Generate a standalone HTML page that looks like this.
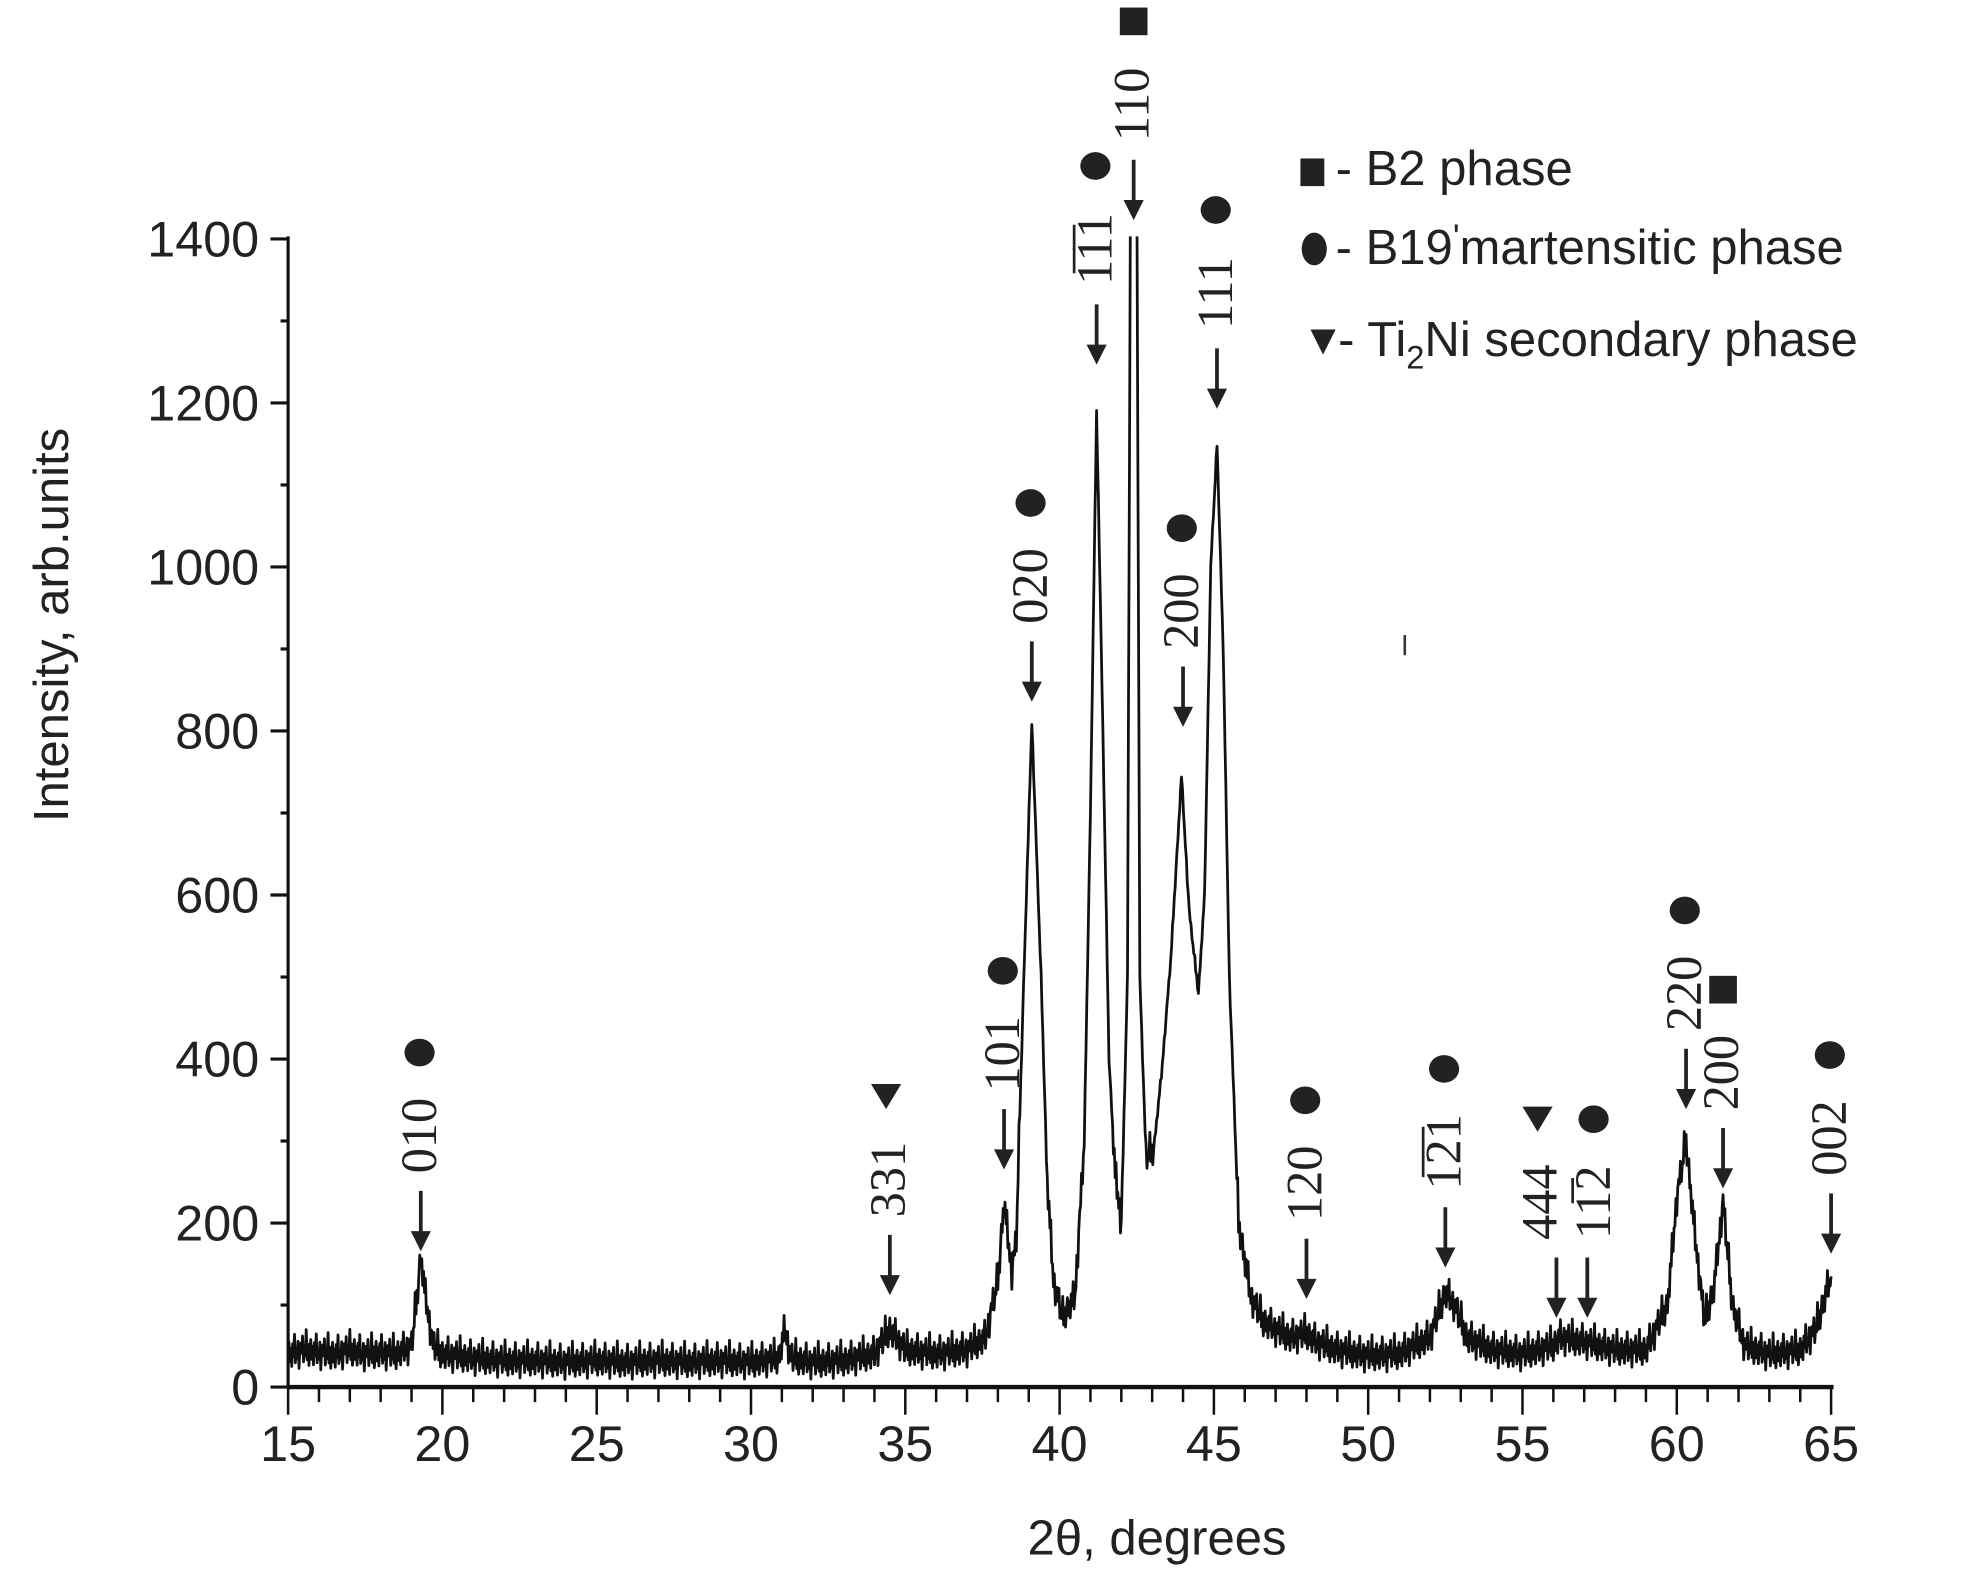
<!DOCTYPE html>
<html><head><meta charset="utf-8"><style>
html,body{margin:0;padding:0;background:#fff;}
svg{display:block;}
</style></head><body>
<svg id="chart" width="1962" height="1587" viewBox="0 0 1560 1262" xmlns="http://www.w3.org/2000/svg">
<defs><clipPath id="plotclip"><rect x="229" y="188" width="1230" height="916"/></clipPath></defs>
<g id="axes"></g>
<g id="series" clip-path="url(#plotclip)"></g>
<g id="annots"></g>
<text x="920" y="1236" text-anchor="middle" font-family="Liberation Sans, sans-serif" font-size="39" fill="#222">2θ, degrees</text>
<text transform="translate(54,497) rotate(-90)" text-anchor="middle" font-family="Liberation Sans, sans-serif" font-size="39" fill="#222">Intensity, arb.units</text>
<rect x="1116" y="505" width="2" height="16" fill="#333"/>
<g font-family="Liberation Sans, sans-serif" font-size="39" fill="#222">
  <g>
    <rect x="1034" y="126" width="19" height="22" fill="#222"/>
    <text x="1062" y="147">- B2 phase</text>
  </g>
  <g>
    <ellipse cx="1045" cy="198" rx="10" ry="13" fill="#222"/>
    <text x="1062" y="210">- B19<tspan font-size="28" dy="-12">'</tspan><tspan dy="12">martensitic phase</tspan></text>
  </g>
  <g>
    <polygon points="1042,262 1062,262 1052,282" fill="#222"/>
    <text x="1064" y="283">- Ti<tspan font-size="26" dy="10">2</tspan><tspan dy="-10">Ni secondary phase</tspan></text>
  </g>
</g>
</svg>
<script>
const twoTheta = [15,15.5,16,16.5,17,17.5,18,18.5,19,19.2,19.3,19.45,19.7,20,21,22,23,24,25,26,27,28,29,30,30.9,31.1,31.3,32,33,34,34.5,35,36,37,37.6,38,38.2,38.45,38.6,38.8,39.1,39.4,39.6,39.8,40.1,40.5,40.8,41.0,41.2,41.4,41.6,41.8,42.0,42.2,42.35,42.45,42.6,42.8,43.05,43.3,43.6,43.95,44.2,44.5,44.7,44.9,45.1,45.3,45.5,45.8,46.2,46.6,47,47.5,48,48.3,49,50,51,52,52.5,52.8,53.2,54,55,56,56.2,57,58,59,59.7,60,60.3,60.6,60.9,61.2,61.5,61.8,62.2,63,64,64.5,65];
const intensity = [40,45,42,40,45,40,42,40,50,120,160,110,50,40,35,32,32,30,32,30,32,30,32,30,35,70,35,30,32,40,70,45,40,45,60,130,225,140,180,450,810,500,250,130,85,110,300,700,1190,800,400,260,200,500,2000,2000,500,280,290,380,520,745,580,480,600,1000,1150,900,500,200,110,80,70,60,65,55,45,38,40,60,115,100,60,45,40,50,60,55,45,45,100,230,300,180,80,120,225,100,50,40,45,70,135];
const xTicks = [15,20,25,30,35,40,45,50,55,60,65];
const yTicks = [0,200,400,600,800,1000,1200,1400];
const peakLabels = ["010","331","101","020","1\u03051\u03051","110","111","200","120","1\u03052\u03051","444","11\u03052","220","200","002"];
const peakPos = [19.3,34.5,38.2,39.1,41.2,42.4,45.1,44.0,48.0,52.5,56.1,57.1,60.3,61.5,65.0];
const peakTipY = [995,1030,930,558,290,175,325,578,1033,1008,1048,1048,882,945,997];
const peakPhase = ["c","t","c","c","c","s","c","c","c","c","t","c","c","s","c"];
// layout offsets (pixels) for crowded labels
const labelDx = [0,0,0,0,0,0,0,0,0,0,-12,6,0,0,0];

const NS="http://www.w3.org/2000/svg";
const X0=229,X1=1456,Y0=1103,Y1=190;
const xs=v=>X0+(v-15)*(X1-X0)/50;
const ys=v=>Y0-v*(Y0-Y1)/1400;
function mk(tag,attrs,parent){const e=document.createElementNS(NS,tag);for(const k in attrs)e.setAttribute(k,attrs[k]);parent.appendChild(e);return e;}

const axes=document.getElementById('axes');
const yAxis=mk('line',{x1:X0,y1:Y1-2,x2:X0,y2:Y0,stroke:'#111','stroke-width':2.5},axes);


const xAxis=mk('line',{x1:X0,y1:Y0,x2:X1+2,y2:Y0,stroke:'#111','stroke-width':3.5},axes);


for(let v=15;v<=65;v++){
  const major=(v%5===0);
  mk('line',{x1:xs(v),y1:Y0,x2:xs(v),y2:Y0+(major?22:12),stroke:'#111','stroke-width':2},axes);
}
xTicks.forEach(v=>{
  const t=mk('text',{x:xs(v),y:1162,'text-anchor':'middle','font-family':'Liberation Sans, sans-serif','font-size':40,fill:'#222'},axes);
  t.textContent=v;
  
  
});
for(let v=0;v<=1400;v+=100){
  const major=(v%200===0);
  mk('line',{x1:X0-(major?14:6),y1:ys(v),x2:X0,y2:ys(v),stroke:'#111','stroke-width':2.5},axes);
}
yTicks.forEach(v=>{
  const t=mk('text',{x:206,y:ys(v)+14,'text-anchor':'end','font-family':'Liberation Sans, sans-serif','font-size':40,fill:'#222'},axes);
  t.textContent=v;
  
  
});

const series=document.getElementById('series');
let d='';
const jit=[0.0,0.9,-0.6,0.4,-1.0,0.7,-0.3,1.4,-0.8,0.2,-0.5,0.8,-1.3,0.3,0.6,-0.2,1.1,-0.9,0.1,-0.4,1.6,-0.7,0.5,-1.1];
let k=0;
for(let i=0;i<twoTheta.length-1;i++){
  const a=twoTheta[i],b=twoTheta[i+1],ya=intensity[i],yb=intensity[i+1];
  const n=Math.max(1,Math.round((b-a)/0.03));
  for(let j=0;j<n;j++){
    const t=j/n;const v=ya+(yb-ya)*t;const x=a+(b-a)*t;
    const amp=(v>300?4:16)*jit[k++%jit.length];
    d+=(d?'L':'M')+xs(x).toFixed(1)+','+ys(v+amp).toFixed(1);
  }
}
d+='L'+xs(twoTheta[twoTheta.length-1]).toFixed(1)+','+ys(intensity[intensity.length-1]).toFixed(1);
const path=mk('path',{d:d,fill:'none',stroke:'#111','stroke-width':2.2,'stroke-linejoin':'round'},series);



const an=document.getElementById('annots');
peakLabels.forEach((lab,i)=>{
  const g=mk('g',{},an);
  
  
  const x=xs(peakPos[i]);const tip=peakTipY[i];
  mk('line',{x1:x,y1:tip-48,x2:x,y2:tip-10,stroke:'#222','stroke-width':3},g);
  mk('polygon',{points:`${x-8},${tip-16} ${x+8},${tip-16} ${x},${tip}`,fill:'#222'},g);
  const cy=tip-92;
  const tx=x+12+labelDx[i];
  const t=mk('text',{transform:`translate(${tx},${cy}) rotate(-90)`,'text-anchor':'middle','font-family':'Liberation Serif, serif','font-size':40,fill:'#222'},g);
  t.textContent=lab;
  const sy=cy-66;
  const sx=x-1+labelDx[i];
  if(peakPhase[i]==='c')mk('ellipse',{cx:sx,cy:sy,rx:12,ry:11,fill:'#222'},g);
  else if(peakPhase[i]==='s')mk('rect',{x:sx-10,y:sy-11,width:22,height:22,fill:'#222'},g);
  else mk('polygon',{points:`${sx-14},${sy-10} ${sx+10},${sy-10} ${sx-2},${sy+10}`,fill:'#222'},g);
});
</script>
</body></html>
